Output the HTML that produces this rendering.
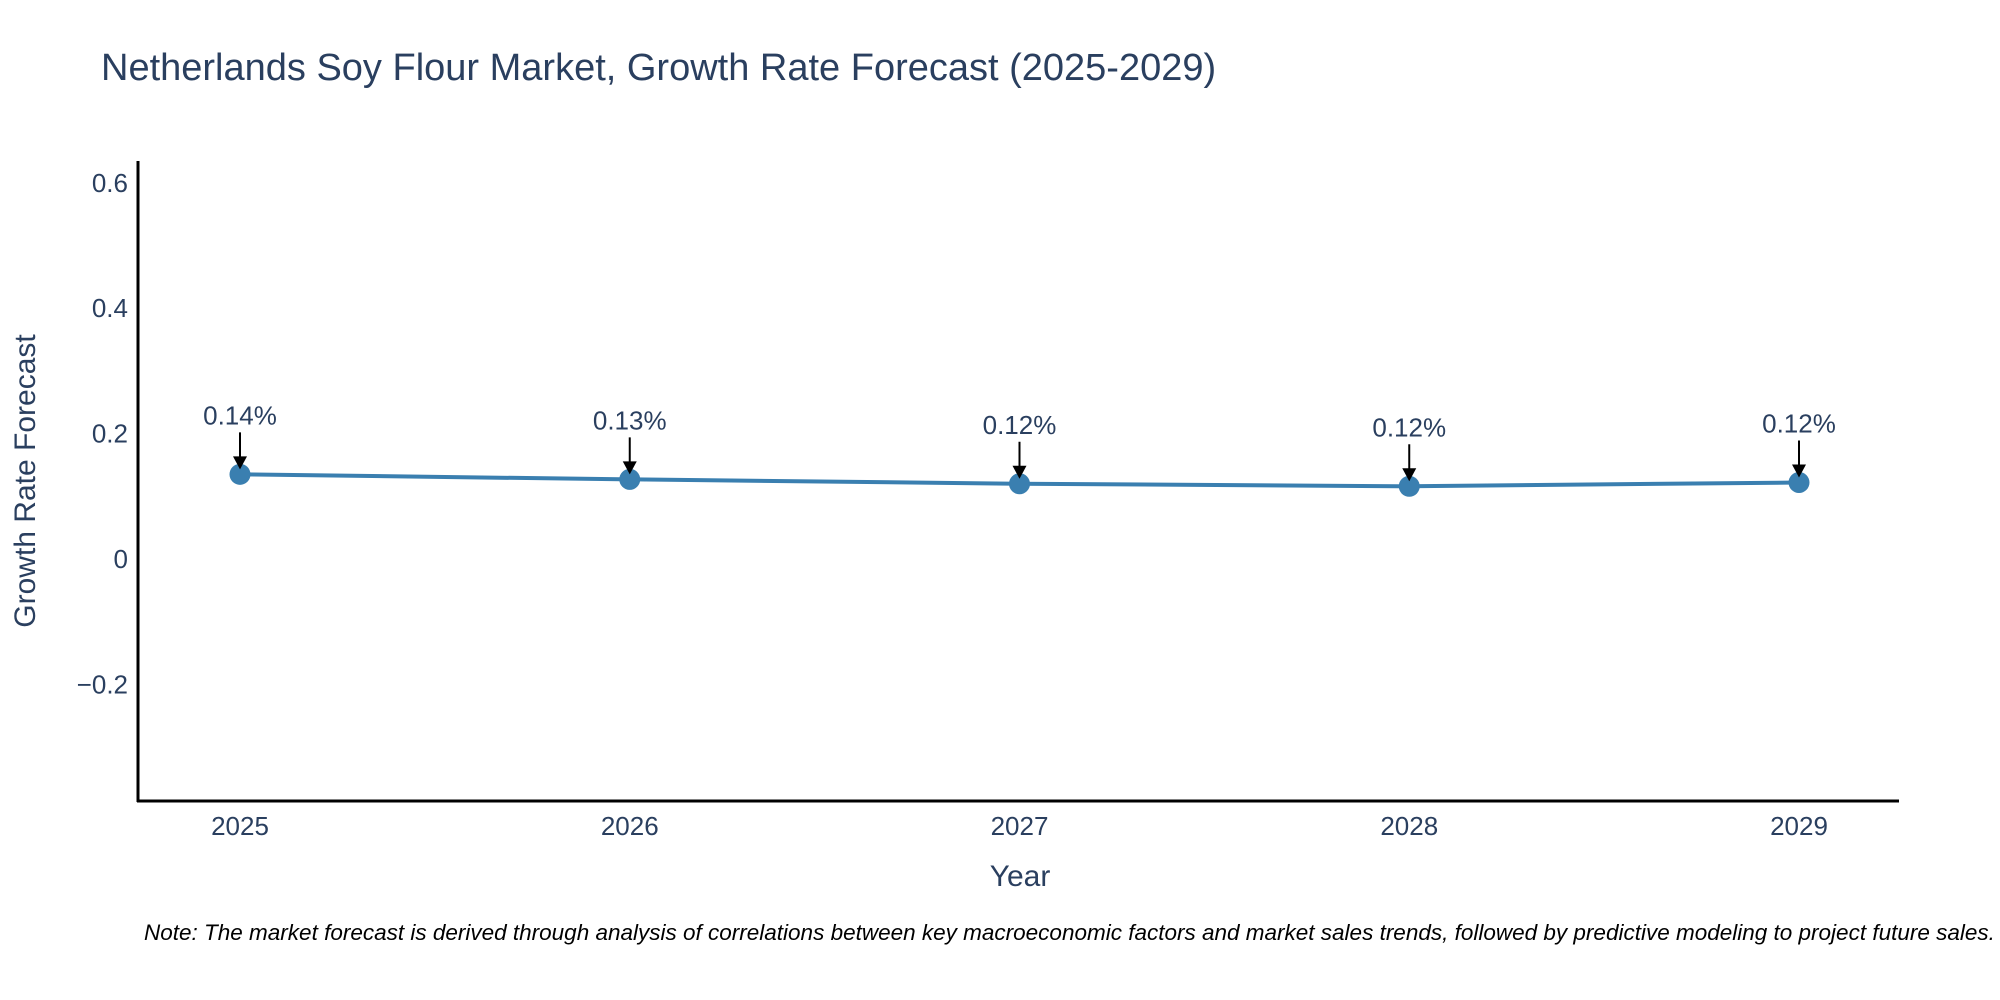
<!DOCTYPE html>
<html><head><meta charset="utf-8"><style>
html,body{margin:0;padding:0;background:#fff;}
svg{display:block;font-family:"Liberation Sans",Arial,sans-serif;}
</style></head><body>
<svg width="2000" height="1000" viewBox="0 0 2000 1000">
<text x="101" y="80" font-size="38" fill="#2a3f5f">Netherlands Soy Flour Market, Growth Rate Forecast (2025-2029)</text>
<g id="yticks"></g>
<g id="xticks"></g>
<line x1="138" y1="161" x2="138" y2="802" stroke="#000" stroke-width="3"/>
<line x1="137" y1="801" x2="1899" y2="801" stroke="#000" stroke-width="3"/>
<g id="series"></g>
<text x="1020" y="886" font-size="30" fill="#2a3f5f" text-anchor="middle">Year</text>
<text transform="translate(35,481) rotate(-90)" font-size="30" fill="#2a3f5f" text-anchor="middle">Growth Rate Forecast</text>
<text x="144" y="940" font-size="22.5" font-style="italic" fill="#000">Note: The market forecast is derived through analysis of correlations between key macroeconomic factors and market sales trends, followed by predictive modeling to project future sales.</text>
</svg>
<script>
const years = ["2025","2026","2027","2028","2029"];
const values = [0.135, 0.127, 0.120, 0.116, 0.122];
const labels = ["0.14%","0.13%","0.12%","0.12%","0.12%"];
const yTicks = [-0.2, 0, 0.2, 0.4, 0.6];
const yTickLabels = ["\u22120.2","0","0.2","0.4","0.6"];
const NS="http://www.w3.org/2000/svg";
function xScale(i){return 240 + i*(1799-240)/(years.length-1);}
function yScale(v){return 559 - v*(125.4/0.2);}
function mk(t,a){const e=document.createElementNS(NS,t);for(const k in a)e.setAttribute(k,a[k]);return e;}
const yt=document.getElementById('yticks');
yTicks.forEach((v,i)=>{const t=mk('text',{x:128,y:yScale(v)+9,'font-size':26,fill:'#2a3f5f','text-anchor':'end'});


t.textContent=yTickLabels[i];yt.appendChild(t);});
const xt=document.getElementById('xticks');
years.forEach((y,i)=>{const t=mk('text',{x:xScale(i),y:835,'font-size':26,fill:'#2a3f5f','text-anchor':'middle'});


t.textContent=y;xt.appendChild(t);});
const s=document.getElementById('series');
const pts=values.map((v,i)=>xScale(i)+','+yScale(v)).join(' ');
const pl=mk('polyline',{points:pts,fill:'none',stroke:'#3a7fb0','stroke-width':4});


s.appendChild(pl);
values.forEach((v,i)=>{const cx=xScale(i),cy=yScale(v);
const c=mk('circle',{cx:cx,cy:cy,r:10.5,fill:'#3a7fb0'});


s.appendChild(c);
const l=mk('line',{x1:cx,y1:cy-42,x2:cx,y2:cy-16,stroke:'#000','stroke-width':2});


s.appendChild(l);
const p=mk('polygon',{points:(cx-7)+','+(cy-18)+' '+(cx+7)+','+(cy-18)+' '+cx+','+(cy-5),fill:'#000'});


s.appendChild(p);
const t=mk('text',{x:cx,y:cy-50,'font-size':26,fill:'#2a3f5f','text-anchor':'middle'});


t.textContent=labels[i];s.appendChild(t);});
</script>
</body></html>
